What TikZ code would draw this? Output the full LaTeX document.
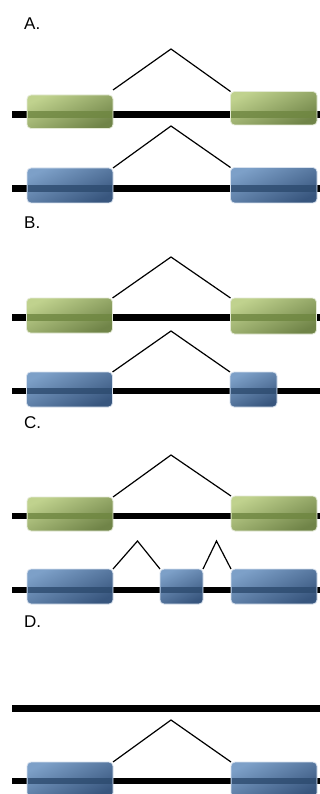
\documentclass[tikz,border=0pt]{standalone}
\usepackage{fontspec}
\setmainfont{Liberation Sans}
\definecolor{gLight}{RGB}{192,210,142}
\definecolor{gDark}{RGB}{112,132,72}
\definecolor{gBand}{RGB}{110,134,64}
\definecolor{gEdge}{RGB}{228,234,214}
\definecolor{bLight}{RGB}{125,160,200}
\definecolor{bDark}{RGB}{56,86,126}
\definecolor{bBand}{RGB}{44,74,110}
\definecolor{bEdge}{RGB}{215,225,238}
\tikzset{
  exonbase/.style={inner sep=0pt, outer sep=0pt, rounded corners=4pt,
    line width=0.8pt, minimum width=#1},
  gexon/.style={exonbase=#1, draw=gEdge, top color=gLight, bottom color=gDark, shading angle=25},
  bexon/.style={exonbase=#1, draw=bEdge, top color=bLight, bottom color=bDark, shading angle=25},
  gband/.style={fill=gBand, fill opacity=0.8},
  bband/.style={fill=bBand, fill opacity=0.8},
  backbone/.style={line width=6.5pt, black},
  intron/.style={line width=1.2pt, black},
  lbl/.style={anchor=base west, inner sep=0pt, font=\fontsize{17}{20}\selectfont}
}
\newcommand\exonband[4]{\fill[#4] (#1+0.8,#3-3.25) rectangle (#2-0.8,#3+3.25);}
\begin{document}
\begin{tikzpicture}[x=1pt,y=-1pt]
\useasboundingbox (0,0) rectangle (320,794);
\clip (0,0) rectangle (320,794);
\fill[white] (0,0) rectangle (320,794);

% labels
\node[lbl] (labA) at (24,30) {A.};
\node[lbl] (labB) at (24,229) {B.};
\node[lbl] (labC) at (24,428.5) {C.};
\node[lbl] (labD) at (24,627) {D.};

% backbones
\coordinate (s1) at (12,114.5); \coordinate (e1) at (321,114.5);
\coordinate (s2) at (12,188.5); \coordinate (e2) at (321,188.5);
\coordinate (s3) at (12,317.5); \coordinate (e3) at (321,317.5);
\coordinate (s4) at (12,391);   \coordinate (e4) at (321,391);
\coordinate (s5) at (12,516);   \coordinate (e5) at (321,516);
\coordinate (s6) at (12,590);   \coordinate (e6) at (321,590);
\coordinate (s7) at (12,708.5); \coordinate (e7) at (321,708.5);
\coordinate (s8) at (12,781);   \coordinate (e8) at (321,781);
\foreach \i in {1,...,8} {\draw[backbone] (s\i) -- (e\i);}

% exons, panel A
\node[gexon=86pt, minimum height=33.5pt] (ga1) at (70,111.75) {};
\node[gexon=86.5pt, minimum height=33.5pt] (ga2) at (273.75,108.25) {};
\node[bexon=86pt, minimum height=35pt] (ba1) at (70,185.5) {};
\node[bexon=86.5pt, minimum height=35.5pt] (ba2) at (273.75,185.25) {};
% panel B
\node[gexon=86pt, minimum height=35pt] (gb1) at (69.5,315.5) {};
\node[gexon=86pt, minimum height=36pt] (gb2) at (273.5,316) {};
\node[bexon=86pt, minimum height=35pt] (bb1) at (69.5,389.5) {};
\node[bexon=47pt, minimum height=35pt] (bb2) at (253.5,389.5) {};
% panel C
\node[gexon=86pt, minimum height=34pt] (gc1) at (70,514) {};
\node[gexon=86pt, minimum height=35pt] (gc2) at (274,513.5) {};
\node[bexon=86pt, minimum height=35pt] (bc1) at (70,586.5) {};
\node[bexon=43pt, minimum height=35pt] (bc2) at (181.5,586.5) {};
\node[bexon=86pt, minimum height=35pt] (bc3) at (274,586.5) {};
% panel D
\node[bexon=86pt, minimum height=35pt] (bd1) at (70,779.5) {};
\node[bexon=86pt, minimum height=35pt] (bd2) at (274,779.5) {};

% darker bands
\exonband{27}{113}{114.5}{gband}
\exonband{230.5}{317}{114.5}{gband}
\exonband{27}{113}{188.5}{bband}
\exonband{230.5}{317}{188.5}{bband}
\exonband{26.5}{112.5}{317.5}{gband}
\exonband{230.5}{316.5}{317.5}{gband}
\exonband{26.5}{112.5}{391}{bband}
\exonband{230}{277}{391}{bband}
\exonband{27}{113}{516}{gband}
\exonband{231}{317}{516}{gband}
\exonband{27}{113}{590}{bband}
\exonband{160}{203}{590}{bband}
\exonband{231}{317}{590}{bband}
\exonband{27}{113}{781}{bband}
\exonband{231}{317}{781}{bband}

% introns
\coordinate (pA1) at (171,49);
\coordinate (pA2) at (171,126);
\coordinate (pB1) at (171,257);
\coordinate (pB2) at (171,331);
\coordinate (pC1) at (171,455);
\coordinate (pC2) at (137.5,541);
\coordinate (pC3) at (216.5,541);
\coordinate (pD2) at (171,720);
\draw[intron] ([yshift=5pt]ga1.north east) -- (pA1) -- (ga2.north west);
\draw[intron] (ba1.north east) -- (pA2) -- (ba2.north west);
\draw[intron] (gb1.north east) -- (pB1) -- (gb2.north west);
\draw[intron] (bb1.north east) -- (pB2) -- (bb2.north west);
\draw[intron] (gc1.north east) -- (pC1) -- (gc2.north west);
\draw[intron] (bc1.north east) -- (pC2) -- (bc2.north west);
\draw[intron] (bc2.north east) -- (pC3) -- (bc3.north west);
\draw[intron] (bd1.north east) -- (pD2) -- (bd2.north west);
\end{tikzpicture}
\end{document}
